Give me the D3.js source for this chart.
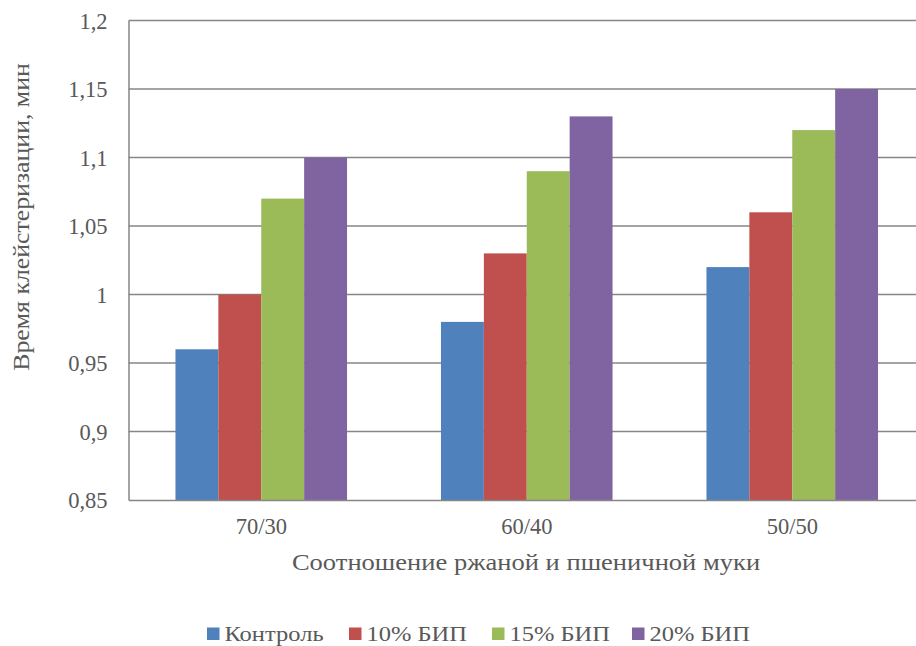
<!DOCTYPE html>
<html>
<head>
<meta charset="utf-8">
<script src="https://cdn.jsdelivr.net/npm/d3@7"></script>
<style>
  html, body { margin: 0; padding: 0; background: #fff; }
  svg { display: block; }
</style>
</head>
<body>
<svg id="chart" width="916" height="646"></svg>
<script>
// Flour ratio groups and additive series
const categories = ["70/30", "60/40", "50/50"];
const seriesNames = ["Контроль", "10% БИП", "15% БИП", "20% БИП"];
const seriesColors = ["#4F81BD", "#C0504D", "#9BBB59", "#8064A2"];
// Gelatinisation time, min (rows follow seriesNames, columns follow categories)
const control = [0.96, 0.98, 1.02];
const bip10 = [1.00, 1.03, 1.06];
const bip15 = [1.07, 1.09, 1.12];
const bip20 = [1.10, 1.13, 1.15];
const yTicks = [0.85, 0.9, 0.95, 1.0, 1.05, 1.1, 1.15, 1.2];
const yTitle = "Время клейстеризации, мин";
const xTitle = "Соотношение ржаной и пшеничной муки";

const seriesValues = [control, bip10, bip15, bip20];

const FONT = "'Liberation Serif'";
const TEXT_COLOR = "#595959";
const svg = d3.select("#chart");
const plotLeft = 128.5, plotTop = 20.5, plotBottom = 500, plotRight = 925;
const gridColor = "#868686";

const x0 = d3.scaleBand().domain(categories).range([plotLeft, plotRight]).paddingInner(0).paddingOuter(0);
const x1 = d3.scaleBand().domain(seriesNames).range([0, x0.bandwidth()]).paddingInner(0).paddingOuter(1.095);
const y = d3.scaleLinear().domain([0.85, 1.2]).range([plotBottom, plotTop]);

const fmt = v => d3.format(".2~f")(v).replace(".", ",");

function styleText(sel, size) {
  sel.style("font-family", FONT).style("font-size", size + "px").style("fill", TEXT_COLOR);
}

// horizontal gridlines
svg.append("g")
  .selectAll("line")
  .data(yTicks.filter(t => t > 0.85))
  .join("line")
  .attr("x1", plotLeft).attr("x2", plotRight)
  .attr("y1", d => y(d)).attr("y2", d => y(d))
  .attr("stroke", gridColor).attr("stroke-width", 1.5);

// bars
const rows = [];
seriesNames.forEach((s, si) => categories.forEach((c, ci) => rows.push({ s, c, v: seriesValues[si][ci], color: seriesColors[si] })));
svg.append("g")
  .selectAll("rect")
  .data(rows)
  .join("rect")
  .attr("x", d => x0(d.c) + x1(d.s))
  .attr("width", x1.bandwidth())
  .attr("y", d => y(d.v))
  .attr("height", d => y(0.85) - y(d.v))
  .attr("fill", d => d.color);

// y axis
const yAxis = svg.append("g")
  .attr("transform", `translate(${plotLeft},0)`)
  .call(d3.axisLeft(y).tickValues(yTicks).tickFormat(fmt).tickSize(0).tickPadding(21));
yAxis.attr("font-family", null);
yAxis.select(".domain").attr("stroke", gridColor).attr("stroke-width", 1.5);
yAxis.selectAll("text").call(styleText, 22.5).attr("dy", "0.34em");

// x axis
const xAxis = svg.append("g")
  .attr("transform", `translate(0,${plotBottom})`)
  .call(d3.axisBottom(x0).tickSize(0).tickPadding(18));
xAxis.attr("font-family", null);
xAxis.select(".domain").attr("stroke", gridColor).attr("stroke-width", 1.5);
xAxis.selectAll("text").call(styleText, 22.5);

// axis titles (glyphs slightly widened, as in the Word-rendered original)
svg.append("text")
  .attr("transform", "translate(526,570) scale(1.13,1)")
  .attr("text-anchor", "middle")
  .call(styleText, 23.5)
  .text(xTitle);

svg.append("text")
  .attr("transform", "translate(28.5,217) rotate(-90) scale(1.075,1)")
  .attr("text-anchor", "middle")
  .call(styleText, 24)
  .text(yTitle);

// legend
const legendX = [207, 349, 492, 632];
const legend = svg.append("g")
  .selectAll("g")
  .data(seriesNames)
  .join("g")
  .attr("transform", (d, i) => `translate(${legendX[i]},627.5)`);
legend.append("rect")
  .attr("width", 12.5).attr("height", 12.5)
  .attr("fill", (d, i) => seriesColors[i]);
legend.append("text")
  .attr("transform", "translate(17.5,13.5) scale(1.14,1)")
  .call(styleText, 21.5)
  .text(d => d);
</script>
</body>
</html>
